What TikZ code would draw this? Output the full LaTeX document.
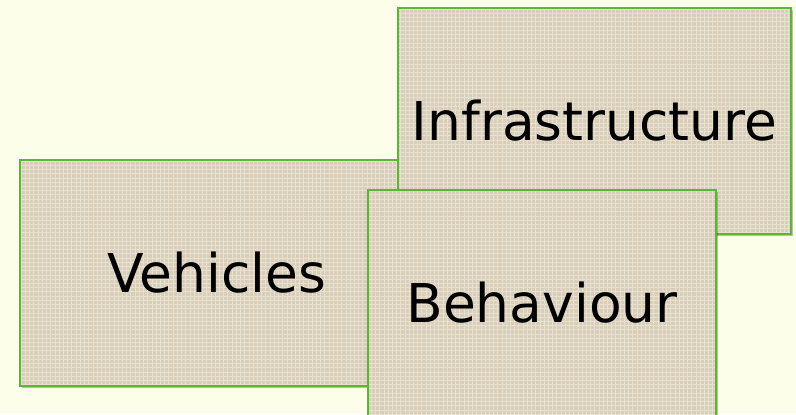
\documentclass[tikz,border=0pt]{standalone}
\usepackage{fontspec}
\setmainfont{DejaVu Sans}
\usepackage{tikz}
\usetikzlibrary{positioning}
\usetikzlibrary{shadows,patterns}

\definecolor{paper}{RGB}{252,254,233}
\definecolor{linen}{RGB}{216,206,186}
\definecolor{linenlight}{RGB}{232,224,207}
\definecolor{edge}{RGB}{88,184,52}

\begin{document}
\begin{tikzpicture}[
  card/.style={fill=linen,
    postaction={pattern=grid, pattern color=linenlight},
    postaction={draw=edge, line width=1.8pt},
    drop shadow={shadow xshift=0.06cm, shadow yshift=-0.06cm, fill=black, opacity=0.25},
    minimum height=5.65cm, inner sep=0pt,
    font=\fontsize{38}{46}\selectfont}
]

% Background
\fill[paper] (0,0) rectangle (19.9,10.35);
\useasboundingbox (0,0) rectangle (19.9,10.35);

% Draw the cards, back to front
\node[card, minimum width=9.825cm] (vehicles) at (5.4125, 3.525) {Vehicles};
\node[card, minimum width=9.825cm] (infrastructure) at (14.8625, 7.325) {Infrastructure};
\node[card, minimum width=8.7cm] (behaviour) at (13.55, 2.775) {Behaviour};

\end{tikzpicture}
\end{document}
